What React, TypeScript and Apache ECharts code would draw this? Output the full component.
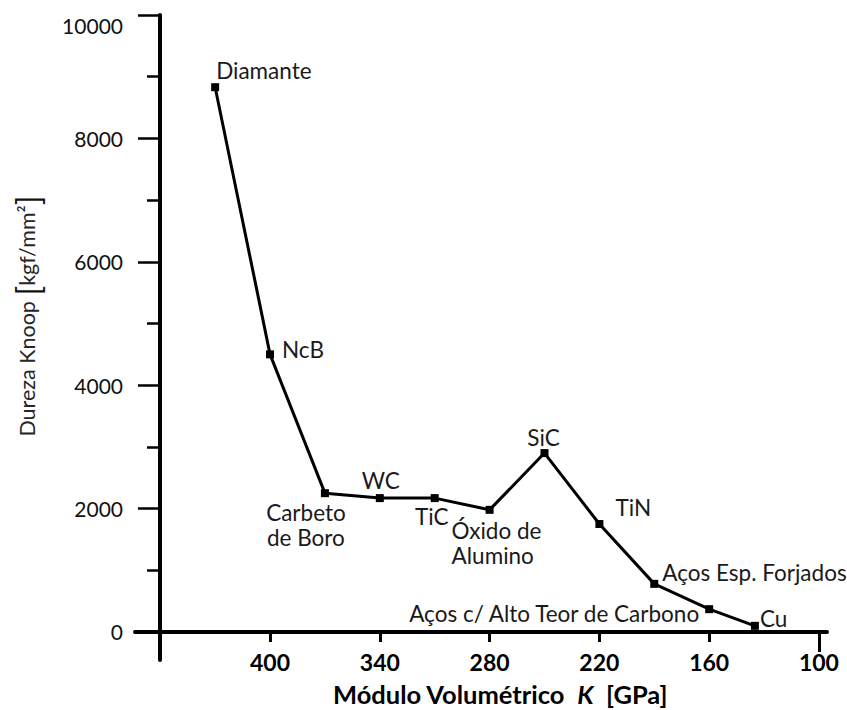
import React, { useEffect, useRef } from 'react';
import * as echarts from 'echarts';

const materials = [
  'Diamante',
  'NcB',
  'Carbeto\nde Boro',
  'WC',
  'TiC',
  'Óxido de\nAlumino',
  'SiC',
  'TiN',
  'Aços Esp. Forjados',
  'Aços c/ Alto Teor de Carbono',
  'Cu',
];
const bulkModulus = [430, 400, 370, 340, 310, 280, 250, 220, 190, 160, 135];
const knoopHardness = [8830, 4500, 2250, 2170, 2170, 1980, 2900, 1750, 780, 370, 100];
const xTickValues = [400, 340, 280, 220, 160];
const xEndTick = [100];
const xLabelValues = [400, 340, 280, 220, 160, 100];
const yMajorTicks = [0, 2000, 4000, 6000, 8000, 10000];
const yMinorTicks = [1000, 3000, 5000, 7000, 9000];

// label placement per point (style only)
const labelPlacement: { align: string; offset: [number, number] }[] = [
  { align: 'left', offset: [1, -17] },
  { align: 'left', offset: [12, -5] },
  { align: 'center', offset: [-19, 32] },
  { align: 'center', offset: [1, -18] },
  { align: 'center', offset: [-3, 18] },
  { align: 'left', offset: [-38, 33] },
  { align: 'center', offset: [-1, -16] },
  { align: 'center', offset: [34, -17] },
  { align: 'left', offset: [8, -11] },
  { align: 'right', offset: [-10, 4] },
  { align: 'left', offset: [5, -7] },
];

const FONT = 'Lato, "Open Sans", sans-serif';
const X_MIN = 95.6;
const X_MAX = 473.8;
const Y_MIN = -454;
const Y_MAX = 10000;

export default function App() {
  const ref = useRef<HTMLDivElement>(null);
  useEffect(() => {
    if (!ref.current) return;
    const chart = echarts.init(ref.current, null, { renderer: 'svg' });
    const data = bulkModulus.map((x, i) => ({
      value: [x, knoopHardness[i]],
      name: materials[i],
      label: {
        show: true,
        position: 'inside',
        align: labelPlacement[i].align,
        verticalAlign: 'middle',
        offset: labelPlacement[i].offset,
        formatter: materials[i],
      },
    }));
    chart.setOption({
      animation: false,
      backgroundColor: '#ffffff',
      textStyle: { fontFamily: FONT },
      grid: { left: 135, right: 20, top: 15, bottom: 50, containLabel: false },
      xAxis: [
        {
          type: 'value',
          inverse: true,
          min: X_MIN,
          max: X_MAX,
          position: 'bottom',
          splitLine: { show: false },
          axisLine: {
            show: true,
            onZero: true,
            lineStyle: { color: '#000', width: 4, cap: 'round' },
          },
          axisTick: {
            show: true,
            customValues: xTickValues,
            length: 10,
            lineStyle: { color: '#000', width: 3 },
          },
          axisLabel: {
            show: true,
            customValues: xLabelValues,
            fontFamily: FONT,
            fontWeight: 'bold',
            fontSize: 23,
            color: '#000',
            margin: -10,
          },
        },
        {
          type: 'value',
          inverse: true,
          min: X_MIN,
          max: X_MAX,
          position: 'bottom',
          splitLine: { show: false },
          axisLine: { show: false, onZero: true },
          axisTick: {
            show: true,
            customValues: xEndTick,
            length: 20,
            lineStyle: { color: '#000', width: 3 },
          },
          axisLabel: { show: false },
        },
      ],
      yAxis: [
        {
          type: 'value',
          min: Y_MIN,
          max: Y_MAX,
          position: 'left',
          offset: -25,
          splitLine: { show: false },
          axisLine: {
            show: true,
            onZero: false,
            lineStyle: { color: '#000', width: 4, cap: 'round' },
          },
          axisTick: {
            show: true,
            customValues: yMajorTicks,
            length: 22,
            lineStyle: { color: '#000', width: 2.5 },
          },
          axisLabel: {
            show: true,
            customValues: yMajorTicks,
            fontFamily: FONT,
            fontSize: 21,
            color: '#111',
            margin: 37,
            formatter: (v: number) => (v === 10000 ? '{d|' + v + '}' : '{n|' + v + '}'),
            rich: {
              d: { fontFamily: FONT, fontSize: 21, color: '#111', padding: [20, 0, 0, 0] },
              n: { fontFamily: FONT, fontSize: 21, color: '#111' },
            },
          },
        },
        {
          type: 'value',
          min: Y_MIN,
          max: Y_MAX,
          position: 'left',
          offset: -25,
          splitLine: { show: false },
          axisLine: { show: false, onZero: false },
          axisTick: {
            show: true,
            customValues: yMinorTicks,
            length: 13,
            lineStyle: { color: '#000', width: 2.5 },
          },
          axisLabel: { show: false },
        },
      ],
      series: [
        {
          type: 'line',
          xAxisIndex: 0,
          yAxisIndex: 0,
          data,
          symbol: 'rect',
          symbolSize: 8,
          itemStyle: { color: '#000' },
          lineStyle: { color: '#000', width: 3 },
          label: {
            fontFamily: FONT,
            fontSize: 22.5,
            color: '#1a1a1a',
            lineHeight: 25,
          },
          emphasis: { disabled: true },
          z: 5,
        },
      ],
      graphic: [
        {
          type: 'text',
          x: 500,
          y: 694,
          style: {
            text: '{b|Módulo Volumétrico  }{i|K}{b|  [GPa]}',
            align: 'center',
            verticalAlign: 'middle',
            fill: '#000',
            rich: {
              b: { fontFamily: FONT, fontWeight: 'bold', fontSize: 25.5, lineHeight: 28, fill: '#000' },
              i: { fontFamily: FONT, fontWeight: 'bold', fontStyle: 'italic', fontSize: 25.5, lineHeight: 28, fill: '#000' },
            },
          },
        },
        {
          type: 'text',
          x: 27,
          y: 316,
          rotation: Math.PI / 2,
          style: {
            text: '{n|Dureza Knoop }{br|[}{n|kgf/mm²}{br|]}',
            align: 'center',
            verticalAlign: 'middle',
            fill: '#262626',
            rich: {
              n: { fontFamily: FONT, fontSize: 21.5, fill: '#262626' },
              br: { fontFamily: FONT, fontSize: 32, fill: '#111' },
            },
          },
        },
      ],
    });
    return () => chart.dispose();
  }, []);
  return (
    <div
      ref={ref}
      style={{ position: 'fixed', left: 0, top: 0, width: 847, height: 710, background: '#fff' }}
    />
  );
}
